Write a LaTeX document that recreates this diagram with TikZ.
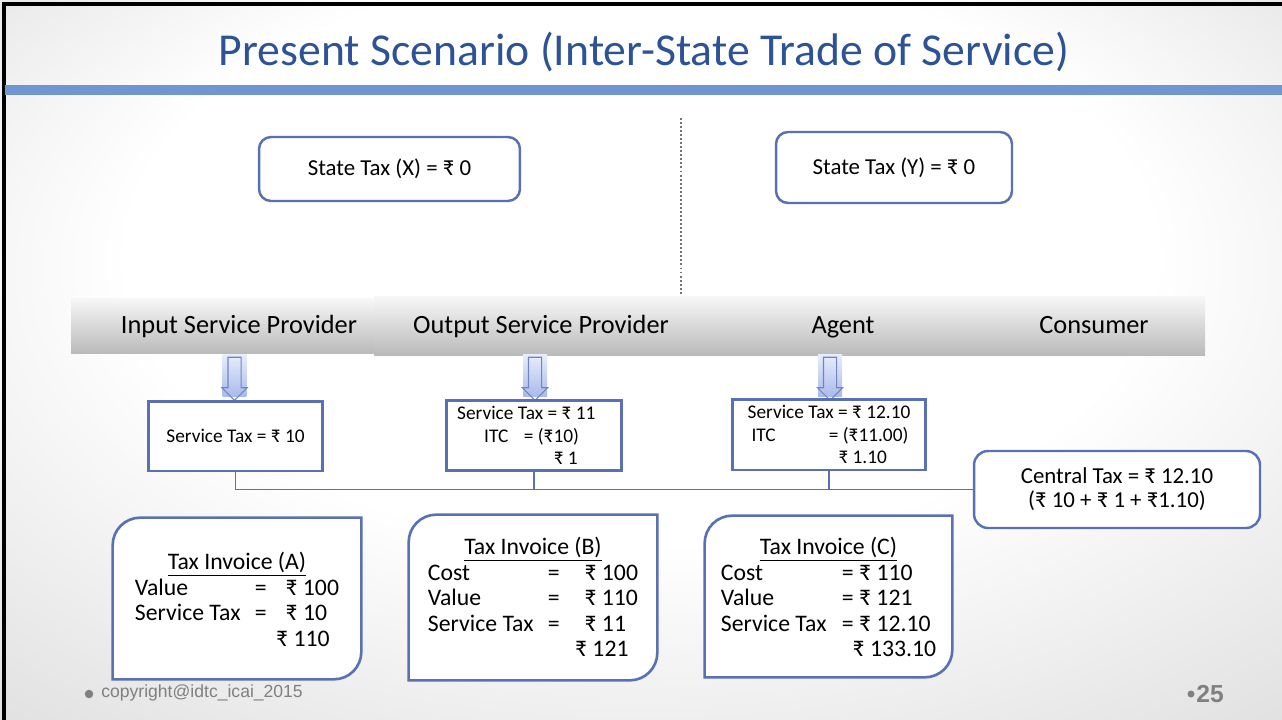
\documentclass[tikz,border=0pt]{standalone}
\usepackage{fontspec}
\setmainfont{Carlito}
\newfontfamily\footfont{Liberation Sans}
\usetikzlibrary{shapes.arrows}
\pgfdeclarelayer{back}
\pgfdeclarelayer{bg}
\pgfsetlayers{back,bg,main}
\definecolor{titleblue}{RGB}{45,83,150}
\definecolor{barblue}{RGB}{112,150,210}
\definecolor{boxblue}{RGB}{90,112,180}
\definecolor{arrowblue}{RGB}{168,186,236}
\definecolor{footgray}{RGB}{128,128,128}
\pgfdeclareradialshading{slidebg}{\pgfpoint{0bp}{12bp}}{color(0bp)=(white); color(20bp)=(white); color(50bp)=(black!20)}
\newcommand{\rs}{₹}
\newcommand{\invframe}[1]{%
  \filldraw[invline] (#1.south west) -- ([yshift=-0.55cm]#1.north west)
    arc[start angle=180, end angle=90, radius=0.55cm] -- (#1.north east)
    -- ([yshift=0.55cm]#1.south east)
    arc[start angle=0, end angle=-90, radius=0.55cm] -- cycle;}

\begin{document}
\begin{tikzpicture}[x=0.02cm, y=-0.02cm,
    rbox/.style={draw=boxblue, line width=1.4pt, rounded corners=0.24cm, fill=white, font=\fontsize{13}{13.7}\selectfont, align=center},
    sbox/.style={draw=boxblue, line width=1.7pt, fill=white, font=\fontsize{11}{13}\selectfont, align=left},
    inv/.style={font=\fontsize{13.5}{14.5}\selectfont, inner sep=0pt},
    invline/.style={draw=boxblue, line width=1.5pt, fill=white},
    party/.style={font=\fontsize{15}{18}\selectfont, anchor=base},
    bar/.style={top color=black!3, bottom color=black!27},
    arrbg/.style={top color=arrowblue!25, bottom color=arrowblue, minimum width=0.48cm, minimum height=0.86cm, inner sep=0pt},
    downarr/.style={single arrow, shape border rotate=270, draw=boxblue!85, line width=0.6pt, minimum height=0.86cm, inner sep=0.12cm, single arrow head extend=0.12cm},
    bus/.style={draw=boxblue, line width=0.9pt},
    dot/.style={circle, fill=footgray, inner sep=0pt},
    foot/.style={text=footgray, inner sep=0pt}]
        \useasboundingbox (0,0) rectangle (1282,720);
        \begin{pgfonlayer}{back}
                \shade[shading=slidebg] (0,0) rectangle (1282,720);
                \draw[line width=2pt] (4,720) -- (4,4) -- (1282,4);
                \fill[barblue] (5,85) rectangle (1282,95);
                \draw[black!55, line width=1.3pt, dash pattern=on 1.1pt off 1.2pt] (681,118) -- (681,294);
                \shade[bar] (71,298) rectangle (374,353);
                \shade[bar] (374,296) rectangle (1205,355);
        \end{pgfonlayer}
        \node (tt) [font=\fontsize{26}{30}\selectfont, text=titleblue] at (644,52) {Present Scenario (Inter-State Trade of Service)};
        \node (sx) [rbox, minimum width=5.22cm, minimum height=1.28cm] at (389.5,169) {State Tax (X) = \rs\ 0};
        \node (sy) [rbox, minimum width=4.72cm, minimum height=1.42cm] at (894,167.5) {State Tax (Y) = \rs\ 0};
        \node (p0) [party] at (239,333) {Input Service Provider};
        \node (p1) [party] at (541,333) {Output Service Provider};
        \node (p2) [party] at (843,333) {Agent};
        \node (p3) [party] at (1094,333) {Consumer};
        \node (a0) [arrbg] at (234.5,375.5) {};
        \node (a1) [arrbg] at (535,375.5) {};
        \node (a2) [arrbg] at (830,375.5) {};
        \node (w0) [downarr] at (a0) {};
        \node (w1) [downarr] at (a1) {};
        \node (w2) [downarr] at (a2) {};
        \node (t0) [sbox, minimum width=3.5cm, minimum height=1.4cm] at (235.5,436) {Service Tax = \rs\ 10};
        \node (t1) [sbox, minimum width=3.52cm, minimum height=1.38cm] at (534,435.5) {Service Tax = \rs\ 11\hspace*{0.8em}\\
\hspace*{1.4em}ITC\hspace{0.8em}= (\rs10)\\
\hspace*{5em}\rs\ 1};
        \node (t2) [sbox, minimum width=3.88cm, minimum height=1.42cm] at (829,434.5) {Service Tax = \rs\ 12.10\\
\hspace*{0.2em}ITC\hspace{2.75em}= (\rs11.00)\\
\hspace*{4.7em}\rs\ 1.10};
        \node (c0) [rbox, rounded corners=0.28cm, minimum width=5.72cm, minimum height=1.54cm] at (1117,489.5) {Central Tax = \rs\ 12.10\\(\rs\ 10 + \rs\ 1 + \rs1.10)};
        \node (i0) [inv, minimum width=4.96cm, minimum height=3.22cm] at (237,598.5) {\raisebox{-2.4pt}[\height][\depth]{\begin{tabular}{@{}l@{\hspace{0.6em}}c@{\hspace{0.8em}}l@{}}
\multicolumn{3}{c}{\underline{Tax Invoice (A)}}\\
Value & = & \rs\ 100\\
Service Tax & = & \rs\ 10\\
 & & \hspace{-0.4em}\rs\ 110
\end{tabular}}};
        \node (i1) [inv, minimum width=4.96cm, minimum height=3.3cm] at (533,597.5) {\raisebox{-1.8pt}[\height][\depth]{\begin{tabular}{@{}l@{\hspace{0.6em}}c@{\hspace{1.05em}}l@{}}
\multicolumn{3}{c}{\underline{Tax Invoice (B)}}\\
Cost & = & \rs\ 100\\
Value & = & \rs\ 110\\
Service Tax & = & \rs\ 11\\
 & & \hspace{-0.4em}\rs\ 121
\end{tabular}}};
        \node (i2) [inv, minimum width=4.94cm, minimum height=3.22cm] at (828.5,596.5) {\raisebox{-2.4pt}[\height][\depth]{\begin{tabular}{@{}l@{\hspace{0.65em}}l@{}}
\multicolumn{2}{c}{\underline{Tax Invoice (C)}}\\
Cost & = \rs\ 110\\
Value & = \rs\ 121\\
Service Tax & = \rs\ 12.10\\
 & \hspace{0.45em}\rs\ 133.10
\end{tabular}}};
        \node (f0) [dot, minimum size=0.17cm] at (89,694) {};
        \node (f1) [foot, anchor=west, font=\footfont\fontsize{10}{12}\selectfont] at (101,693) {copyright@idtc\_icai\_2015};
        \node (f2) [dot, minimum size=0.14cm] at (1191,694) {};
        \node (f3) [foot, anchor=west, font=\footfont\bfseries\fontsize{14}{16}\selectfont] at (1196,694) {25};
        \begin{pgfonlayer}{bg}
                \draw[bus] (t0.south) -- (t0.south |- c0.west) -- (c0.west);
                \draw[bus] (t1.south) -- (t1.south |- c0.west);
                \draw[bus] (t2.south) -- (t2.south |- c0.west);
                \invframe{i0}
                \invframe{i1}
                \invframe{i2}
        \end{pgfonlayer}
\end{tikzpicture}
\end{document}
